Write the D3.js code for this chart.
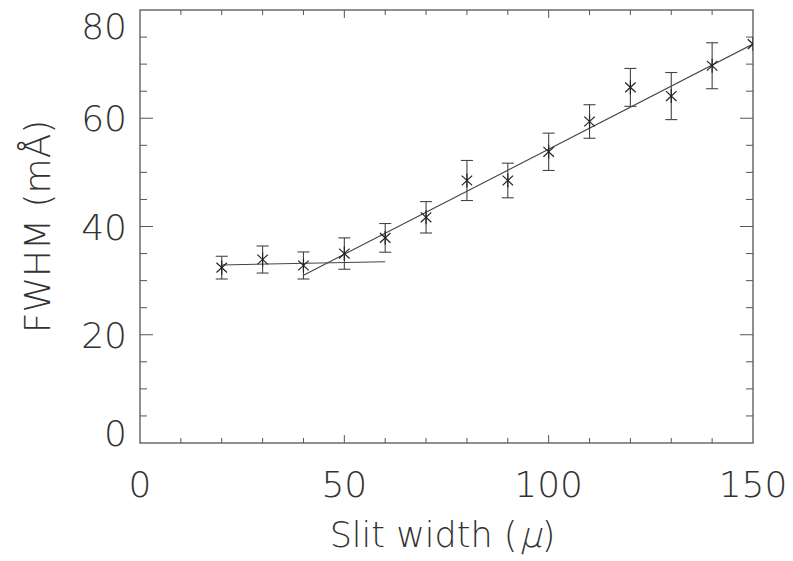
<!DOCTYPE html>
<html>
<head>
<meta charset="utf-8">
<script src="https://cdn.jsdelivr.net/npm/d3@7"></script>
<style>
  body { margin: 0; background: #fff; }
  svg text { font-family: "DejaVu Sans", sans-serif; font-weight: 200; fill: #333; }
</style>
</head>
<body>
<svg id="chart" width="793" height="561"></svg>
<script>
// slit width (microns)
var slitWidth = [20, 30, 40, 50, 60, 70, 80, 90, 100, 110, 120, 130, 140, 150];
// measured FWHM (mA)
var fwhm = [32.4, 33.9, 32.8, 35.0, 37.9, 41.7, 48.5, 48.5, 53.8, 59.4, 65.7, 64.1, 69.7, 73.7];
// error bar half size
var fwhmErr = [2.1, 2.5, 2.5, 2.9, 2.65, 2.9, 3.7, 3.2, 3.45, 3.1, 3.5, 4.35, 4.25, 4.0];
// two linear fits
var fitFlat = [[20, 32.9], [60, 33.5]];
var fitSteep = [[40, 31.0], [150, 73.7]];

var xTicks = [0, 50, 100, 150];
var yTicks = [0, 20, 40, 60, 80];

(function () {
    'use strict';

    var svg = d3.select('#chart');
    var left = 140, right = 753, top = 10, bottom = 443;
    var axisColor = '#555';

    var x = d3.scaleLinear().domain([0, 150]).range([left, right]);
    var y = d3.scaleLinear().domain([0, 80]).range([bottom, top]);

    // frame
    svg.append('rect')
        .attr('x', left).attr('y', top)
        .attr('width', right - left).attr('height', bottom - top)
        .attr('fill', 'none').attr('stroke', axisColor).attr('stroke-width', 1.3);

    // x ticks, bottom and top, pointing inward
    var xMinor = d3.range(0, 151, 10);
    xMinor.forEach(function (v) {
        var len = (v % 50 === 0) ? 8 : 5;
        if (v === 0 || v === 150) return;
        svg.append('line').attr('x1', x(v)).attr('x2', x(v))
            .attr('y1', bottom).attr('y2', bottom - len)
            .attr('stroke', axisColor);
        svg.append('line').attr('x1', x(v)).attr('x2', x(v))
            .attr('y1', top).attr('y2', top + len)
            .attr('stroke', axisColor);
    });

    // y ticks, left and right
    var yMinor = d3.range(0, 81, 5);
    yMinor.forEach(function (v) {
        var len = (v % 20 === 0) ? 13 : 7;
        if (v === 0 || v === 80) return;
        svg.append('line').attr('y1', y(v)).attr('y2', y(v))
            .attr('x1', left).attr('x2', left + len)
            .attr('stroke', axisColor);
        svg.append('line').attr('y1', y(v)).attr('y2', y(v))
            .attr('x1', right).attr('x2', right - len)
            .attr('stroke', axisColor);
    });

    // tick labels
    svg.selectAll('.xlab').data(xTicks).enter().append('text')
        .attr('class', 'xlab')
        .attr('x', function (d) { return x(d); })
        .attr('y', 497)
        .attr('text-anchor', 'middle')
        .attr('font-size', 36)
        .text(function (d) { return d; });

    // end labels are kept inside the frame height
    svg.selectAll('.ylab').data(yTicks).enter().append('text')
        .attr('class', 'ylab')
        .attr('x', 127)
        .attr('y', function (d) { return Math.min(Math.max(y(d) + 13, 39), 446); })
        .attr('text-anchor', 'end')
        .attr('font-size', 36)
        .text(function (d) { return d; });

    // x title: pieces laid out by hand so the mu can be slanted
    var tg = svg.append('g');
    var t1 = tg.append('text').attr('font-size', 35).attr('y', 547).text('Slit width (');
    var w1 = t1.node().getComputedTextLength();
    var mu = tg.append('text').attr('font-size', 35)
        .attr('transform', 'translate(' + (w1 + 2) + ',547) skewX(-14)').text('\u03bc');
    var wm = mu.node().getComputedTextLength();
    var t3 = tg.append('text').attr('font-size', 35).attr('x', w1 + wm + 2).attr('y', 547).text(')');
    var total = w1 + wm + 2 + t3.node().getComputedTextLength();
    tg.attr('transform', 'translate(' + (x(75) - 4 - total / 2) + ',0)');

    svg.append('text')
        .attr('transform', 'translate(50,' + y(40) + ') rotate(-90)')
        .attr('text-anchor', 'middle')
        .attr('font-size', 36)
        .text('FWHM (m\u00c5)');

    var plot = svg.append('g');
    svg.append('clipPath').attr('id', 'clip')
        .append('rect').attr('x', left).attr('y', top)
        .attr('width', right - left).attr('height', bottom - top);
    plot.attr('clip-path', 'url(#clip)');

    // fit lines
    var line = d3.line().x(function (d) { return x(d[0]); }).y(function (d) { return y(d[1]); });
    [fitFlat, fitSteep].forEach(function (f) {
        plot.append('path').attr('d', line(f))
            .attr('fill', 'none').attr('stroke', '#444').attr('stroke-width', 1.1);
    });

    // error bars
    var cap = 6;
    slitWidth.forEach(function (sx, i) {
        var px = x(sx), lo = y(fwhm[i] - fwhmErr[i]), hi = y(fwhm[i] + fwhmErr[i]);
        if (sx >= 150) return;
        var g = plot.append('g').attr('stroke', '#444').attr('stroke-width', 1.1);
        g.append('line').attr('x1', px).attr('x2', px).attr('y1', lo).attr('y2', hi);
        g.append('line').attr('x1', px - cap).attr('x2', px + cap).attr('y1', lo).attr('y2', lo);
        g.append('line').attr('x1', px - cap).attr('x2', px + cap).attr('y1', hi).attr('y2', hi);
    });

    // asterisk markers
    var r = 7;
    slitWidth.forEach(function (sx, i) {
        var px = x(sx), py = y(fwhm[i]);
        var g = plot.append('g').attr('stroke', '#222').attr('stroke-width', 1.2);
        g.append('line').attr('x1', px).attr('x2', px).attr('y1', py - r).attr('y2', py + r);
        g.append('line').attr('x1', px - r * 0.75).attr('x2', px + r * 0.75).attr('y1', py - r * 0.7).attr('y2', py + r * 0.7);
        g.append('line').attr('x1', px - r * 0.75).attr('x2', px + r * 0.75).attr('y1', py + r * 0.7).attr('y2', py - r * 0.7);
    });
}());
</script>
</body>
</html>
